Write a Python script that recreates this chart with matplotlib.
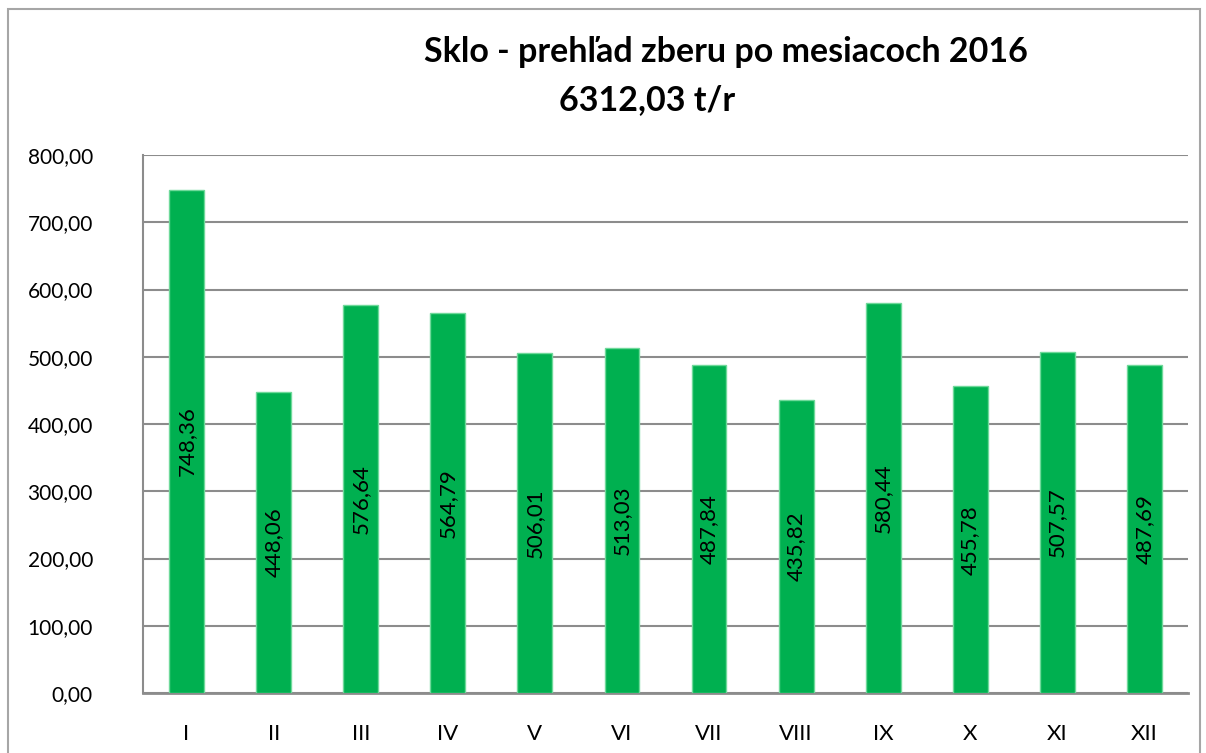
import matplotlib.pyplot as plt
from matplotlib.patches import Rectangle

plt.rcParams['font.family'] = ['Lato', 'DejaVu Sans']

# monthly glass collection 2016 (t)
months = ['I', 'II', 'III', 'IV', 'V', 'VI', 'VII', 'VIII', 'IX', 'X', 'XI', 'XII']
values = [748.36, 448.06, 576.64, 564.79, 506.01, 513.03, 487.84, 435.82, 580.44, 455.78, 507.57, 487.69]
total_label = '6312,03 t/r'
yticks = [0, 100, 200, 300, 400, 500, 600, 700, 800]


def fmt(v):
    return f'{v:.2f}'.replace('.', ',')


fig = plt.figure(figsize=(12.06, 7.53), dpi=100)
ax = fig.add_axes([143 / 1206, 1 - 693 / 753, (1188 - 143) / 1206, (693 - 155) / 753])

x = range(len(months))
bars = ax.bar(x, values, width=0.4, color='#00B050', edgecolor='#6FD99A', linewidth=1, zorder=3)

for i, v in enumerate(values):
    ax.text(i, v / 2, fmt(v), rotation=90, ha='center', va='center', fontsize=16, color='black', zorder=4)

ax.set_xlim(-0.5, len(months) - 0.5)
ax.set_ylim(0, 800)
ax.set_yticks(yticks)
ax.set_yticklabels([fmt(t) for t in yticks], fontsize=15)
ax.set_xticks(list(x))
ax.set_xticklabels(months, fontsize=16)
ax.tick_params(axis='both', length=0)
ax.tick_params(axis='x', pad=22)
ax.tick_params(axis='y', pad=36)

ax.grid(axis='y', color='#8C8C8C', linewidth=1.5, zorder=0)
for s in ['top', 'right']:
    ax.spines[s].set_visible(False)
ax.spines['left'].set_color('#8C8C8C')
ax.spines['left'].set_linewidth(1.5)
ax.spines['bottom'].set_color('#8C8C8C')
ax.spines['bottom'].set_linewidth(2)

fig.text(726 / 1206, 1 - 52 / 753, 'Sklo - prehľad zberu po mesiacoch 2016',
         ha='center', va='center', fontsize=24.5, fontweight='bold')
fig.text(647 / 1206, 1 - 100 / 753, total_label,
         ha='center', va='center', fontsize=24.5, fontweight='bold')

# chart border
fig.patches.append(Rectangle((8 / 1206, -0.1), (1200 - 8) / 1206, 1.1 - 9 / 753,
                             transform=fig.transFigure, fill=False,
                             edgecolor='#A6A6A6', linewidth=1.5))

fig.savefig('out.png', dpi=100)
